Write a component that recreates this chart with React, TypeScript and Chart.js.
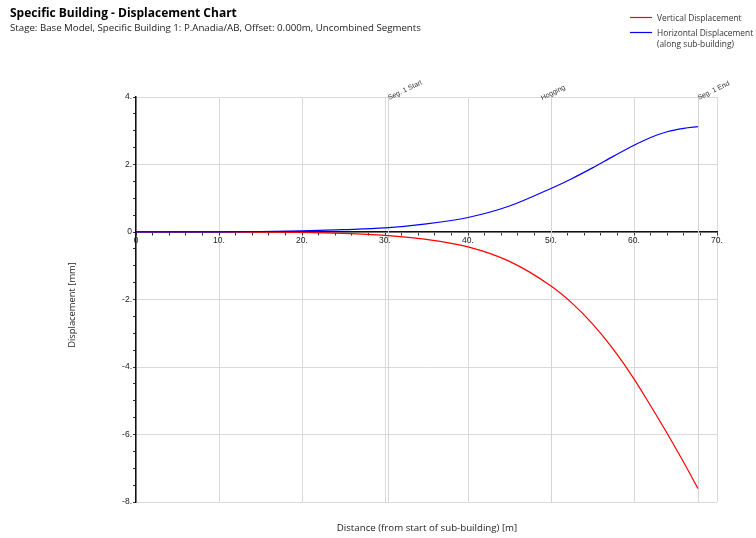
import React, { useEffect, useRef } from 'react';
import { Chart, registerables } from 'chart.js';

Chart.register(...registerables);

// ---- Data ----
const distance = [0, 5, 10, 15, 20, 25, 30, 35, 40, 45, 50, 52.5, 55, 57.5, 60, 62, 64, 66, 67.7];
const verticalDisplacement = [0, 0, 0, -0.003, -0.01, -0.04, -0.1, -0.22, -0.44, -0.87, -1.6, -2.1, -2.72, -3.47, -4.35, -5.15, -5.97, -6.83, -7.6];
const horizontalDisplacement = [0, 0.002, 0.005, 0.015, 0.035, 0.07, 0.12, 0.24, 0.43, 0.77, 1.29, 1.58, 1.9, 2.24, 2.57, 2.8, 2.97, 3.07, 3.12];

const seriesNames = ['Vertical Displacement', 'Horizontal Displacement'];
const seriesSubNames = ['', '(along sub-building)'];

const markerPositions = [30.4, 50, 67.7];
const markerLabels = ['Seg. 1 Start', 'Hogging', 'Seg. 1 End'];

const titleText = 'Specific Building - Displacement Chart';
const subtitleText = 'Stage: Base Model, Specific Building 1: P.Anadia/AB, Offset: 0.000m, Uncombined Segments';
const xAxisTitle = 'Distance (from start of sub-building) [m]';
const yAxisTitle = 'Displacement [mm]';

const xMin = 0;
const xMax = 70;
const yMin = -8;
const yMax = 4;

// ---- Styles ----
const UI_FONT = '"Open Sans", "Noto Sans", sans-serif';
const TICK_FONT = '"Liberation Sans", Arial, sans-serif';
const seriesColors = ['#ff0000', '#0000ff'];
const markerAnchors = ['left', 'center', 'left'];

const fmt = (v: number) => (v === 0 ? '0' : `${v}.`);

const overlayPlugin = {
  id: 'overlay',
  beforeDatasetsDraw(chart: any) {
    const { ctx, chartArea, scales } = chart;
    const x = scales.x;
    ctx.save();
    ctx.strokeStyle = '#d4d4d4';
    ctx.lineWidth = 1;
    markerPositions.forEach((v) => {
      const px = Math.round(x.getPixelForValue(v)) + 0.5;
      ctx.beginPath();
      ctx.moveTo(px, chartArea.top);
      ctx.lineTo(px, chartArea.bottom);
      ctx.stroke();
    });
    ctx.restore();
  },
  afterDraw(chart: any) {
    const { ctx, chartArea, scales } = chart;
    const x = scales.x;
    ctx.save();
    // Title
    ctx.fillStyle = '#000';
    ctx.textAlign = 'left';
    ctx.textBaseline = 'alphabetic';
    ctx.font = `bold 12px ${UI_FONT}`;
    ctx.fillText(titleText, 10, 17);
    ctx.font = `9.7px ${UI_FONT}`;
    ctx.fillStyle = '#222';
    ctx.fillText(subtitleText, 10, 30.5);

    // Legend
    const legendYs = [17.5, 32.5];
    seriesNames.forEach((name, i) => {
      const ly = legendYs[i];
      ctx.strokeStyle = seriesColors[i];
      ctx.lineWidth = 1.2;
      ctx.beginPath();
      ctx.moveTo(630, ly);
      ctx.lineTo(652, ly);
      ctx.stroke();
      ctx.fillStyle = '#333';
      ctx.font = `8.4px ${UI_FONT}`;
      ctx.textBaseline = 'middle';
      ctx.textAlign = 'left';
      ctx.fillText(name, 657, ly + 1);
      if (seriesSubNames[i]) ctx.fillText(seriesSubNames[i], 657, ly + 12.5);
    });

    // Axis titles
    ctx.fillStyle = '#222';
    ctx.font = `9.7px ${UI_FONT}`;
    ctx.textAlign = 'center';
    ctx.textBaseline = 'middle';
    ctx.fillText(xAxisTitle, 427, 528);
    ctx.save();
    ctx.translate(72, 305);
    ctx.rotate(-Math.PI / 2);
    ctx.font = `9.4px ${UI_FONT}`;
    ctx.fillText(yAxisTitle, 0, 0);
    ctx.restore();

    // Marker labels
    ctx.font = `7px ${TICK_FONT}`;
    ctx.fillStyle = '#333';
    ctx.textBaseline = 'alphabetic';
    markerPositions.forEach((v, i) => {
      const px = x.getPixelForValue(v);
      ctx.save();
      if (markerAnchors[i] === 'center') {
        ctx.translate(px + 3, chartArea.top - 2.5);
        ctx.textAlign = 'center';
      } else {
        ctx.translate(px + 1, chartArea.top + 3);
        ctx.textAlign = 'left';
      }
      ctx.rotate(-26 * Math.PI / 180);
      ctx.fillText(markerLabels[i], 0, 0);
      ctx.restore();
    });
    ctx.restore();
  },
};

export default function App() {
  const canvasRef = useRef<HTMLCanvasElement | null>(null);

  useEffect(() => {
    document.body.style.margin = '0';
    const canvas = canvasRef.current;
    if (!canvas) return;
    const chart = new Chart(canvas, {
      type: 'line',
      data: {
        datasets: [
          {
            label: seriesNames[0],
            data: distance.map((d, i) => ({ x: d, y: verticalDisplacement[i] })),
            borderColor: seriesColors[0],
            backgroundColor: seriesColors[0],
            borderWidth: 1.2,
            pointRadius: 0,
            cubicInterpolationMode: 'monotone',
            fill: false,
            order: 2,
          },
          {
            label: seriesNames[1],
            data: distance.map((d, i) => ({ x: d, y: horizontalDisplacement[i] })),
            borderColor: seriesColors[1],
            backgroundColor: seriesColors[1],
            borderWidth: 1.2,
            pointRadius: 0,
            cubicInterpolationMode: 'monotone',
            fill: false,
            order: 1,
          },
        ],
      },
      options: {
        responsive: false,
        animation: false,
        devicePixelRatio: 1,
        layout: { padding: { left: 100, right: 39, top: 97, bottom: 36 } },
        plugins: { legend: { display: false }, title: { display: false }, tooltip: { enabled: false } },
        scales: {
          x: {
            type: 'linear',
            min: xMin,
            max: xMax,
            position: { y: 0 },
            ticks: {
              stepSize: 2,
              autoSkip: false,
              maxRotation: 0,
              padding: 1,
              color: '#222',
              font: { family: TICK_FONT, size: 8.5 },
              callback: (v: any) => (Number(v) % 10 === 0 ? fmt(Number(v)) : ''),
            },
            grid: {
              color: (c: any) => (c.tick && c.tick.value % 10 === 0 ? '#d9d9d9' : 'rgba(0,0,0,0)'),
              tickColor: '#333',
              tickLength: 3,
              lineWidth: 1,
            },
            border: { color: '#111', width: 1.5 },
          },
          y: {
            type: 'linear',
            min: yMin,
            max: yMax,
            position: 'left',
            afterFit: (s: any) => {
              s.width = 36;
            },
            ticks: {
              stepSize: 0.5,
              autoSkip: false,
              padding: 1,
              color: '#222',
              font: { family: TICK_FONT, size: 8.5 },
              callback: (v: any) => (Number(v) % 2 === 0 ? fmt(Number(v)) : ''),
            },
            grid: {
              color: (c: any) => (c.tick && c.tick.value % 2 === 0 ? '#d9d9d9' : 'rgba(0,0,0,0)'),
              tickColor: '#333',
              tickLength: 3,
              lineWidth: 1,
            },
            border: { color: '#111', width: 1.5 },
          },
        },
      },
      plugins: [overlayPlugin],
    } as any);
    return () => chart.destroy();
  }, []);

  return (
    <div style={{ width: 756, height: 538, background: '#fff' }}>
      <canvas ref={canvasRef} width={756} height={538} style={{ display: 'block' }} />
    </div>
  );
}
